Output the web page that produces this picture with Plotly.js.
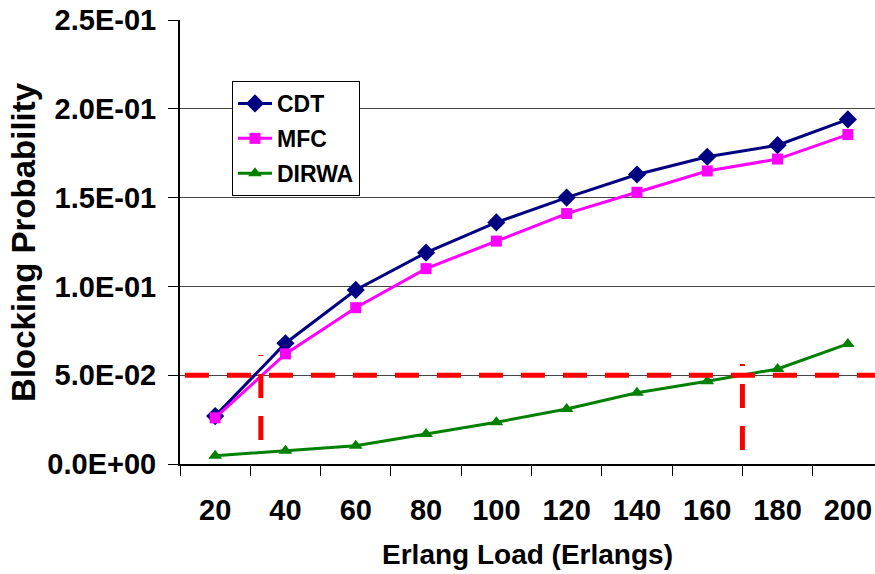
<!DOCTYPE html>
<html>
<head>
<meta charset="utf-8">
<script src="https://cdn.plot.ly/plotly-3.0.1.min.js"></script>
<style>html,body{margin:0;padding:0;background:#fff;}#chart{width:875px;height:574px;}</style>
</head>
<body>
<div id="chart"></div>
<script>
const loads = ['20','40','60','80','100','120','140','160','180','200'];
const cdt = [0.027, 0.068, 0.098, 0.119, 0.136, 0.150, 0.163, 0.173, 0.1795, 0.194];
const mfc = [0.026, 0.062, 0.088, 0.110, 0.1255, 0.141, 0.153, 0.165, 0.1717, 0.1855];
const dirwa = [0.0047, 0.0075, 0.0103, 0.0169, 0.0235, 0.031, 0.0401, 0.0466, 0.0535, 0.0676];
const yTickVals = [0, 0.05, 0.10, 0.15, 0.20, 0.25];
const yTickText = ['0.0E+00','5.0E-02','1.0E-01','1.5E-01','2.0E-01','2.5E-01'];
const threshold = 0.05;
const markLoads = [33, 170];
const markBottom = [0.0135, 0.0079];
const markTop = [0.0614, 0.0563];

// category index from a load value (categories every 20 Erlangs starting at 20)
const idx = v => (v - 20) / 20;

const FONT = 'Liberation Sans, Arial, sans-serif';

const traces = [
  {x: loads, y: cdt, name: 'CDT', type: 'scatter', mode: 'lines+markers', legendgroup: 'a',
   line: {color: '#000080', width: 3}, marker: {symbol: 'diamond', size: 14, color: '#000080'}},
  {x: loads, y: mfc, name: 'MFC', type: 'scatter', mode: 'lines+markers', legendgroup: 'b',
   line: {color: '#FF00FF', width: 3}, marker: {symbol: 'square', size: 11, color: '#FF00FF'}},
  {x: loads, y: dirwa, name: 'DIRWA', type: 'scatter', mode: 'lines+markers', legendgroup: 'c',
   line: {color: '#008000', width: 3}, marker: {symbol: 'triangle-up', size: 12, color: '#008000'}}
];

const shapes = [
  {type: 'line', xref: 'x', yref: 'y', x0: -0.43, x1: 9.6, y0: threshold, y1: threshold,
   line: {color: '#FF0000', width: 5, dash: '24px,18px'}, layer: 'above'}
];
markLoads.forEach((v, i) => {
  shapes.push({type: 'line', xref: 'x', yref: 'y', x0: idx(v), x1: idx(v), y0: markBottom[i], y1: markTop[i],
    line: {color: '#FF0000', width: 5, dash: '24px,18px'}, layer: 'above'});
});

const layout = {
  width: 875, height: 574,
  margin: {l: 180, r: 0, t: 20, b: 110, pad: 0},
  paper_bgcolor: '#fff', plot_bgcolor: '#fff',
  font: {family: FONT, color: '#000'},
  showlegend: true,
  legend: {x: 0.0748, y: 0.8626, xanchor: 'left', yanchor: 'top',
    bgcolor: '#fff', bordercolor: '#000', borderwidth: 1,
    font: {family: FONT, size: 23, weight: 'bold', color: '#000'},
    tracegroupgap: 2, itemwidth: 34},
  xaxis: {type: 'category', range: [-0.5, 9.386], tickson: 'boundaries',
    ticks: 'outside', ticklen: 10, tickwidth: 1, tickcolor: '#000',
    showline: true, linecolor: '#000', linewidth: 2, showgrid: false, zeroline: false,
    tickfont: {family: FONT, size: 29, weight: 'bold', color: '#000'}, ticklabelstandoff: 19,
    title: {text: 'Erlang Load (Erlangs)', font: {family: FONT, size: 28, weight: 'bold', color: '#000'}, standoff: 20}},
  yaxis: {range: [0, 0.25], tickvals: yTickVals, ticktext: yTickText,
    ticks: 'outside', ticklen: 10, tickwidth: 1, tickcolor: '#000',
    showline: true, linecolor: '#000', linewidth: 2, showgrid: true, gridcolor: '#444', gridwidth: 1, zeroline: false,
    tickfont: {family: FONT, size: 29, weight: 'bold', color: '#000'}, ticklabelstandoff: 6},
  annotations: [
    {text: 'Blocking Probability', xref: 'paper', yref: 'paper', x: -0.226, y: 0.5,
     xanchor: 'center', yanchor: 'middle', textangle: -90, showarrow: false,
     font: {family: FONT, size: 33, weight: 'bold', color: '#000'}}
  ],
  shapes: shapes
};

Plotly.newPlot('chart', traces, layout, {displayModeBar: false, staticPlot: true});
</script>
</body>
</html>
